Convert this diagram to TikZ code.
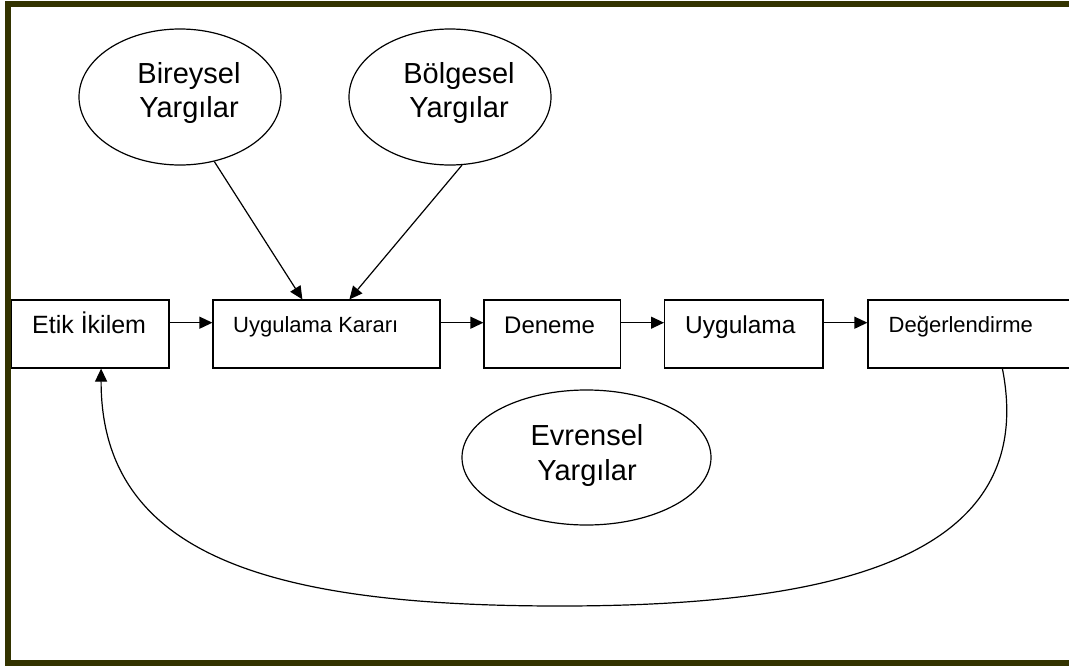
\documentclass[tikz,border=0pt]{standalone}
\usepackage{fontspec}
\setmainfont{Liberation Sans}
\usetikzlibrary{arrows.meta,shapes.geometric}
\definecolor{frameolive}{RGB}{51,51,0}
\begin{document}
\begin{tikzpicture}[x=1pt,y=-1pt,
 box/.style={draw,line width=1.2pt,rectangle,inner sep=0pt,minimum height=68pt},
 oval/.style={draw,line width=1.2pt,ellipse,inner sep=0pt},
 txt/.style={inner sep=0pt,anchor=base west},
 otxt/.style={inner sep=0pt,anchor=base,font=\fontsize{29}{34}\selectfont},
 arr/.style={line width=1.2pt,-{Triangle[length=13pt,width=12pt]}}]
\useasboundingbox (0,0) rectangle (1069,667);
\clip (0,0) rectangle (1069,667);
\fill[white] (0,0) rectangle (1069,667);
% boxes
\node[box,minimum width=158pt] (etik) at (90,334) {};
\node[box,minimum width=227pt] (kar) at (326.5,334) {};
\node[box,minimum width=136.5pt] (den) at (552.25,334) {};
\node[box,minimum width=158.4pt] (uyg) at (743.8,334) {};
\node[box,minimum width=242pt] (deg) at (989,334) {};
\node[txt,font=\fontsize{25}{30}\selectfont] (etikt) at (32,333) {Etik İkilem};
\node[txt,font=\fontsize{22}{26}\selectfont] (kart) at (233,332) {Uygulama Kararı};
\node[txt,font=\fontsize{24}{28}\selectfont] (dent) at (504,333) {Deneme};
\node[txt,font=\fontsize{24.5}{28}\selectfont] (uygt) at (685,333) {Uygulama};
\node[txt,font=\fontsize{22}{26}\selectfont] (degt) at (888.5,332) {Değerlendirme};
% ellipses
\node[oval,minimum width=202pt,minimum height=136pt] (bir) at (180,97) {};
\node[otxt] (bir1) at (189,83) {Bireysel};
\node[otxt] (bir2) at (189,117) {Yargılar};
\node[oval,minimum width=202pt,minimum height=136pt] (bol) at (450,97) {};
\node[otxt] (bol1) at (459,83) {Bölgesel};
\node[otxt] (bol2) at (459,117) {Yargılar};
\node[oval,minimum width=249pt,minimum height=135pt] (evr) at (586.5,457.5) {};
\node[otxt] (evr1) at (587,445) {Evrensel};
\node[otxt] (evr2) at (587,480) {Yargılar};
% connectors
\draw[arr] ([yshift=11.3pt]etik.east) -- ([yshift=11.3pt]kar.west);
\draw[arr] ([yshift=11.3pt]kar.east) -- ([yshift=11.3pt]den.west);
\draw[arr] ([yshift=11.3pt]den.east) -- ([yshift=11.3pt]uyg.west);
\draw[arr] ([yshift=11.3pt]uyg.east) -- ([yshift=11.3pt]deg.west);
\draw[arr] (bir.-62) -- ([xshift=90pt]kar.north west);
\draw[arr] (bol.-80) -- ([xshift=137pt]kar.north west);
\draw[arr] ([xshift=135pt]deg.south west) .. controls (1040,560) and (830,606) .. (560,606)
  .. controls (280,606) and (101,560) .. ([xshift=90.7pt]etik.south west);
% frame
\draw[frameolive,line width=6pt] (8,4) rectangle (1100,663);
\end{tikzpicture}
\end{document}
